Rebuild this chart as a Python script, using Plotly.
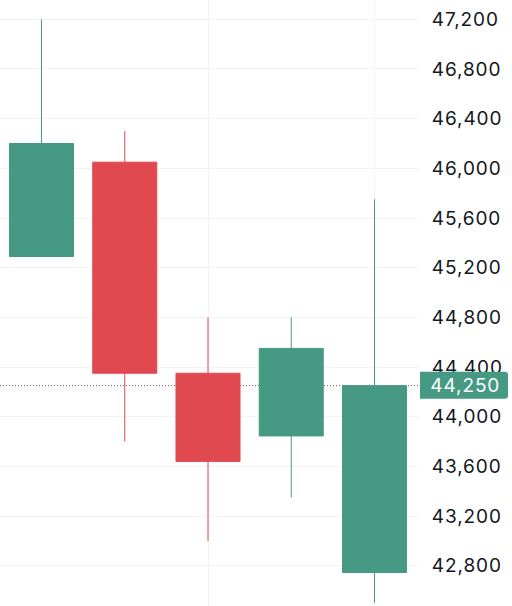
import plotly.graph_objects as go

candles = [0, 1, 2, 3, 4]
opens = [45290, 46050, 44350, 43845, 42745]
highs = [47200, 46300, 44800, 44800, 45750]
lows = [45290, 43800, 43000, 43350, 42500]
closes = [46200, 44350, 43640, 44550, 44250]
price_ticks = [42800, 43200, 43600, 44000, 44400, 44800, 45200, 45600, 46000, 46400, 46800, 47200]
time_grid = [2, 4]
last_price = 44250

GREEN = "#469982"
RED = "#E0494F"
GRID = "#F3F3F5"
TEXT = "#131722"

fig = go.Figure(
    go.Candlestick(
        x=candles,
        open=opens,
        high=highs,
        low=lows,
        close=closes,
        whiskerwidth=0,
        increasing=dict(line=dict(color=GREEN, width=1), fillcolor=GREEN),
        decreasing=dict(line=dict(color=RED, width=1), fillcolor=RED),
        showlegend=False,
    )
)

# dotted last price line, runs under the candles
fig.add_shape(
    type="line", layer="below", xref="paper", x0=0, x1=1.01, yref="y", y0=last_price, y1=last_price,
    line=dict(color="#5A5E66", width=1, dash="1px,2px"),
)
# rounded price tag on the axis
fig.add_shape(
    type="path", layer="above", xref="paper", yref="y", xsizemode="pixel", ysizemode="pixel",
    xanchor=1, yanchor=last_price,
    path="M 2 -13 L 87 -13 Q 90 -13 90 -10 L 90 11 Q 90 14 87 14 L 2 14 L 2 -13 Z",
    fillcolor=GREEN, line=dict(width=0),
)
fig.add_annotation(
    xref="paper", yref="y", x=1, y=last_price, xanchor="left", xshift=13, showarrow=False,
    text=f"{last_price:,}", font=dict(family="Inter", size=19, color="white"),
)

fig.update_layout(
    width=512,
    height=606,
    margin=dict(l=0, r=94, t=0, b=0),
    paper_bgcolor="white",
    plot_bgcolor="white",
    font=dict(family="Inter", size=19, color=TEXT),
    boxgap=0.231,
    boxgroupgap=0,
    xaxis=dict(
        range=[-0.4985, 4.5225], tickvals=time_grid, showticklabels=False, ticks="",
        showgrid=True, gridcolor=GRID, gridwidth=1, zeroline=False, showline=False,
        rangeslider=dict(visible=False),
    ),
    yaxis=dict(
        side="right", range=[42475.5, 47355.6], tickvals=price_ticks, tickformat=",",
        showgrid=True, gridcolor=GRID, gridwidth=1, zeroline=False, showline=False,
        ticks="outside", ticklen=9, tickcolor="rgba(0,0,0,0)",
    ),
)

# plotly has no letter spacing or line join settings
post = """
document.body.style.margin = '0';
var st = document.createElement('style');
st.textContent = '.ytick text, .annotation-text {letter-spacing: 0.9px;}'
    + '.boxes path {stroke-linejoin: miter !important; stroke-miterlimit: 4 !important;}';
document.head.appendChild(st);
"""
fig.write_html("out.html", config={"displayModeBar": False}, post_script=post)
